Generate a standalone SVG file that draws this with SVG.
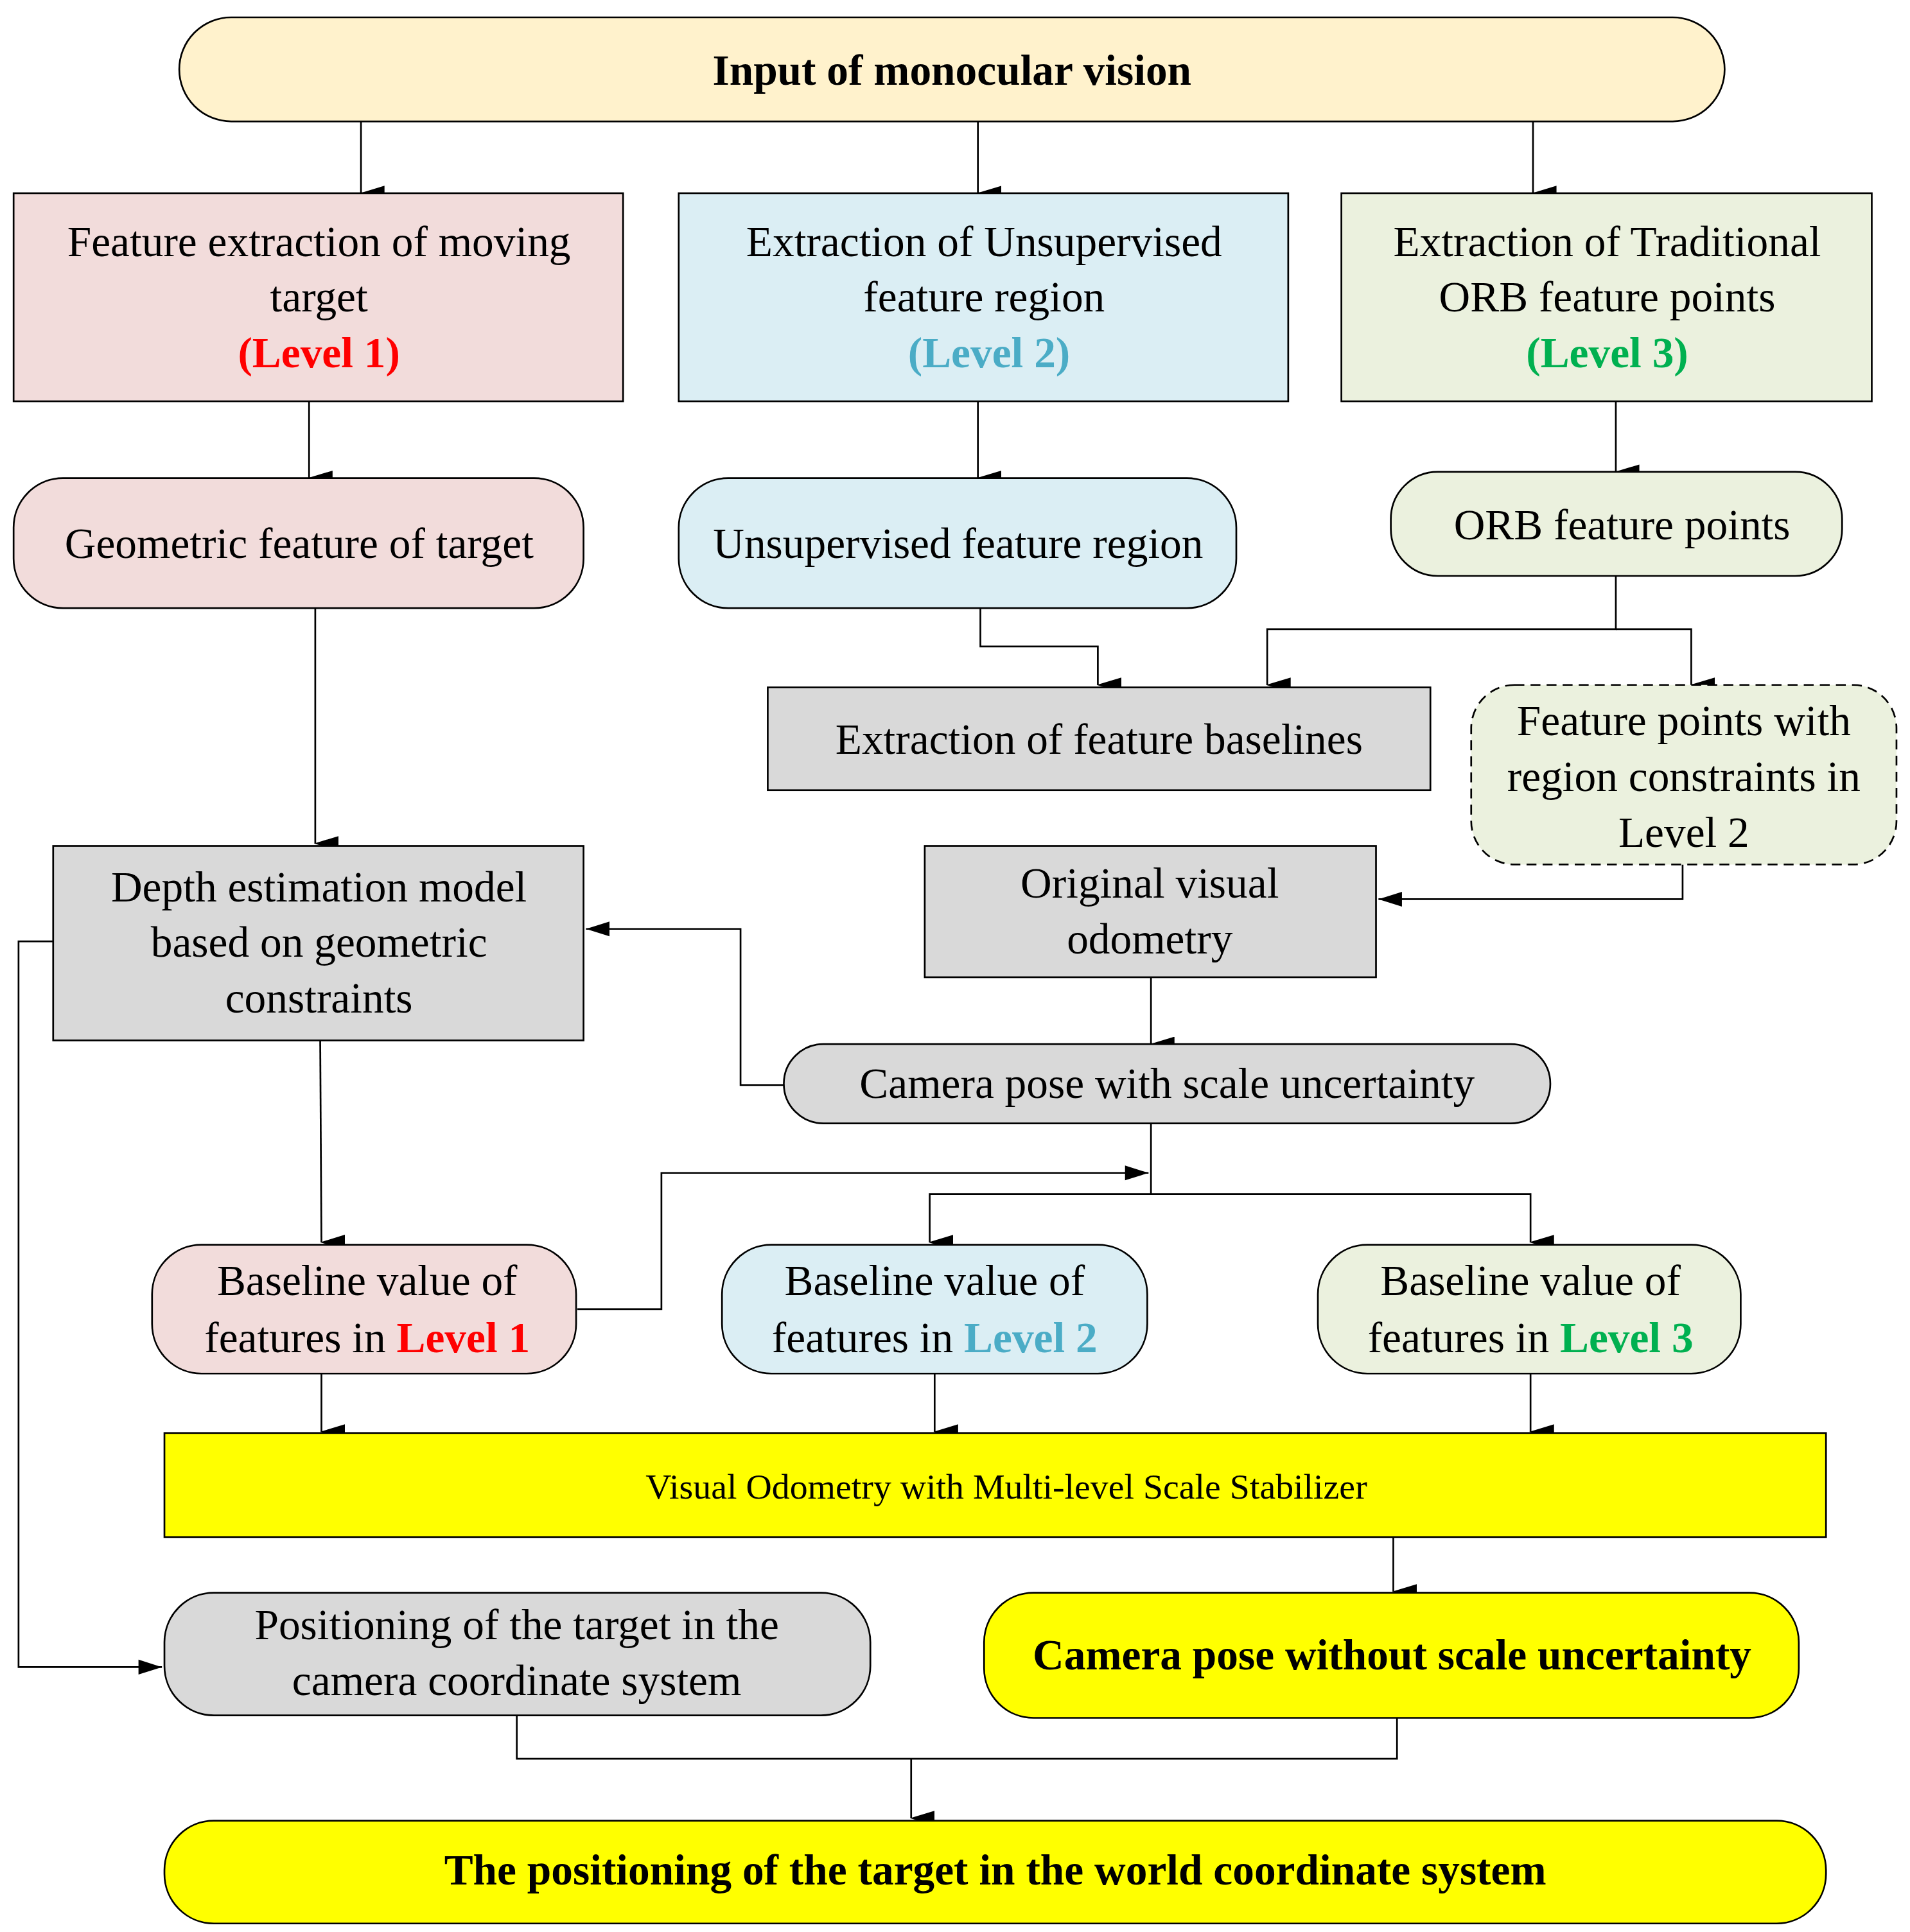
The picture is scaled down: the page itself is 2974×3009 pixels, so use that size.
<svg xmlns="http://www.w3.org/2000/svg" width="2974" height="3009" viewBox="0 0 2974 3009">
<defs>
<style>
.n{stroke:#000;stroke-width:1.4}
text{font-family:"Liberation Serif","Times New Roman",serif;font-size:35px;text-anchor:middle;dominant-baseline:central;fill:#000}
.b{font-weight:bold}
.c path{fill:none;stroke:#000;stroke-width:1.4;marker-end:url(#a)}
</style>
<marker id="a" markerUnits="userSpaceOnUse" markerWidth="12" markerHeight="20" viewBox="0 0 12 20" refX="6" refY="19" orient="auto-start-reverse"><path d="M0,0 L12,0 L6,20 Z" transform="rotate(0)" fill="#000"/></marker>
</defs>
<rect width="2974" height="3009" fill="#fff"/>
<g transform="scale(1.925,1.929)">
<g class="c">
<path d="M292,98V156" transform=""/>
<path d="M791,98V156"/>
<path d="M1240,98V156"/>
<path d="M250,324V386"/>
<path d="M791,324V386"/>
<path d="M1307,324V381"/>
<path d="M793,491V522H888V553"/>
<path d="M1307,465V508H1025V553"/>
<path d="M1307,508H1368V553"/>
<path d="M255,491V681"/>
<path d="M1361,698V726H1115" style="marker-end:none"/>
<path d="M931,789V843"/>
<path d="M634,876H599V750H474" style="marker-end:none"/>
<path d="M43,760H15V1346H131" style="marker-end:none"/>
<path d="M259,840L260,1003"/>
<path d="M931,907V964H752V1003"/>
<path d="M931,964H1238V1003"/>
<path d="M467,1057H535V947H929" style="marker-end:none"/>
<path d="M260,1109V1156"/>
<path d="M756,1109V1156"/>
<path d="M1238,1109V1156"/>
<path d="M1127,1241V1285"/>
<path d="M418,1385V1420H1130V1387" style="marker-end:none"/>
<path d="M737,1420V1468"/>
</g>
<g fill="#000">
<path d="M1115,726l19,-6v12z"/>
<path d="M474,750l19,-6v12z"/>
<path d="M131,1346l-19,-6v12z"/>
<path d="M929,947l-19,-6v12z"/>
</g>
<g id="input"><rect class="n" x="145" y="14" width="1250" height="84" rx="42" fill="#fff2cc"/><text class="b" x="770" y="57">Input of monocular vision</text></g>
<g id="fe1"><rect class="n" x="11" y="156" width="493" height="168" fill="#f2dcdb"/><text x="258" y="195">Feature extraction of moving</text><text x="258" y="240">target</text><text class="b" x="258" y="285" fill="#ff0000" style="fill:#ff0000">(Level 1)</text></g>
<g id="fe2"><rect class="n" x="549" y="156" width="493" height="168" fill="#dbeef4"/><text x="796" y="195">Extraction of Unsupervised</text><text x="796" y="240">feature region</text><text class="b" x="800" y="285" style="fill:#4bacc6">(Level 2)</text></g>
<g id="fe3"><rect class="n" x="1085" y="156" width="429" height="168" fill="#ebf1de"/><text x="1300" y="195">Extraction of Traditional</text><text x="1300" y="240">ORB feature points</text><text class="b" x="1300" y="285" style="fill:#00b050">(Level 3)</text></g>
<g id="geo"><rect class="n" x="11" y="386" width="461" height="105" rx="40" fill="#f2dcdb"/><text x="242" y="439">Geometric feature of target</text></g>
<g id="usr"><rect class="n" x="549" y="386" width="451" height="105" rx="40" fill="#dbeef4"/><text x="775" y="439">Unsupervised feature region</text></g>
<g id="orb"><rect class="n" x="1125" y="381" width="365" height="84" rx="38" fill="#ebf1de"/><text x="1312" y="424">ORB feature points</text></g>
<g id="efb"><rect class="n" x="621" y="555" width="536" height="83" fill="#d9d9d9"/><text x="889" y="597">Extraction of feature baselines</text></g>
<g id="fpr"><rect class="n" x="1190" y="553" width="344" height="145" rx="35" fill="#ebf1de" stroke-dasharray="8,5"/><text x="1362" y="582">Feature points with</text><text x="1362" y="627">region constraints in</text><text x="1362" y="672">Level 2</text></g>
<g id="dep"><rect class="n" x="43" y="683" width="429" height="157" fill="#d9d9d9"/><text x="258" y="716">Depth estimation model</text><text x="258" y="761">based on geometric</text><text x="258" y="806">constraints</text></g>
<g id="ovo"><rect class="n" x="748" y="683" width="365" height="106" fill="#d9d9d9"/><text x="930" y="713">Original visual</text><text x="930" y="758">odometry</text></g>
<g id="cpu"><rect class="n" x="634" y="843" width="620" height="64" rx="32" fill="#d9d9d9"/><text x="944" y="875">Camera pose with scale uncertainty</text></g>
<g id="bl1"><rect class="n" x="123" y="1005" width="343" height="104" rx="40" fill="#f2dcdb"/><text x="297" y="1034">Baseline value of</text><text x="297" y="1080">features in <tspan class="b" style="fill:#ff0000">Level 1</tspan></text></g>
<g id="bl2"><rect class="n" x="584" y="1005" width="344" height="104" rx="40" fill="#dbeef4"/><text x="756" y="1034">Baseline value of</text><text x="756" y="1080">features in <tspan class="b" style="fill:#4bacc6">Level 2</tspan></text></g>
<g id="bl3"><rect class="n" x="1066" y="1005" width="342" height="104" rx="40" fill="#ebf1de"/><text x="1238" y="1034">Baseline value of</text><text x="1238" y="1080">features in <tspan class="b" style="fill:#00b050">Level 3</tspan></text></g>
<g id="vo"><rect class="n" x="133" y="1157" width="1344" height="84" fill="#ffff00"/><text x="814" y="1200" style="font-size:29px">Visual Odometry with Multi-level Scale Stabilizer</text></g>
<g id="pcs"><rect class="n" x="133" y="1286" width="571" height="99" rx="40" fill="#d9d9d9"/><text x="418" y="1312">Positioning of the target in the</text><text x="418" y="1357">camera coordinate system</text></g>
<g id="cpw"><rect class="n" x="796" y="1286" width="659" height="101" rx="40" fill="#ffff00"/><text class="b" x="1126" y="1336">Camera pose without scale uncertainty</text></g>
<g id="final"><rect class="n" x="133" y="1470" width="1344" height="83" rx="40" fill="#ffff00"/><text class="b" x="805" y="1510">The positioning of the target in the world coordinate system</text></g>
</g>
</svg>
